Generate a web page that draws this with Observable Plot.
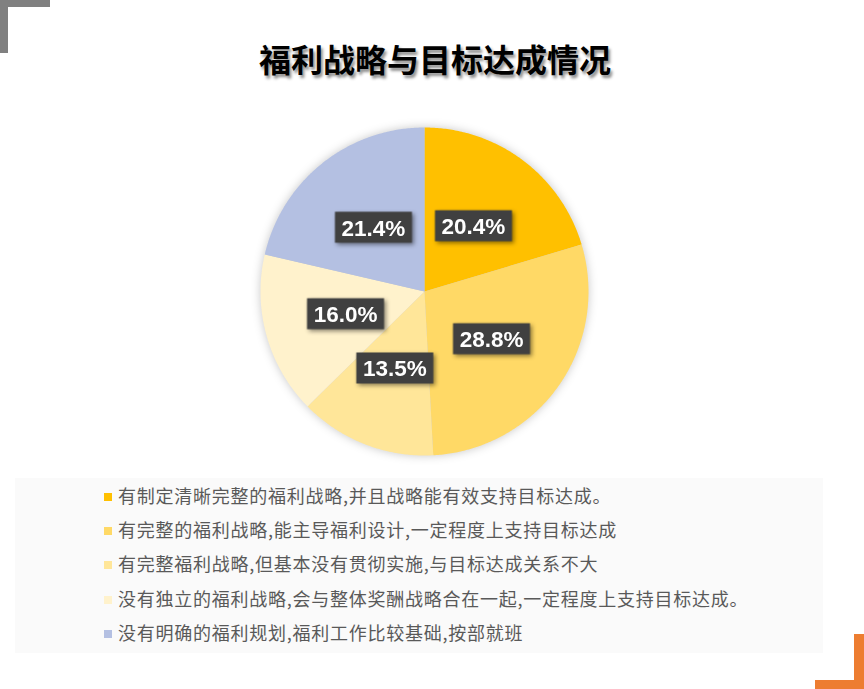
<!DOCTYPE html>
<html>
<head>
<meta charset="utf-8">
<script src="https://cdn.jsdelivr.net/npm/d3@7"></script>
<script src="https://cdn.jsdelivr.net/npm/@observablehq/plot@0.6"></script>
<style>
  html, body { margin: 0; padding: 0; background: #fff; }
  #page { position: relative; width: 864px; height: 689px; overflow: hidden; background: #fff;
          font-family: "Noto Sans CJK SC", "Noto Sans", sans-serif; }
  #title { position: absolute; left: 0; width: 870px; top: 36px; text-align: center;
           font-size: 32px; font-weight: 700; color: #000; line-height: 44px;
           text-shadow: 2px 3px 3px rgba(0,0,0,0.45); }
  #chart { position: absolute; left: 0; top: 110px; }
  #chart g[aria-label="line"] { filter: drop-shadow(0px 0px 5px rgba(0,0,0,0.22)); }
  #chart g[aria-label="dot"] { filter: drop-shadow(2px 2px 2px rgba(0,0,0,0.45)); }
  #legend { position: absolute; left: 15px; top: 478px; width: 808px; height: 175px;
            background: #fafafa; }
  .row { position: absolute; left: 0; height: 34px; line-height: 34px; font-size: 18px; color: #595959;
         white-space: nowrap; letter-spacing: 0.75px; }
  .sw { position: absolute; left: 89px; top: 15px; width: 8px; height: 8px; }
  .txt { position: absolute; left: 103px; top: 0; }
  .corner { position: absolute; }
</style>
</head>
<body>
<div id="page">
  <div class="corner" style="left:0;top:0;width:50px;height:7px;background:#808080"></div>
  <div class="corner" style="left:0;top:0;width:8px;height:53px;background:#808080"></div>
  <div class="corner" style="left:854px;top:634px;width:10px;height:55px;background:#ED7D31"></div>
  <div class="corner" style="left:815px;top:680px;width:49px;height:9px;background:#ED7D31"></div>
  <div id="title"></div>
  <div id="chart"></div>
  <div id="legend"></div>
</div>
<script>
const titleText = "福利战略与目标达成情况";
const categories = [
  "有制定清晰完整的福利战略,并且战略能有效支持目标达成。",
  "有完整的福利战略,能主导福利设计,一定程度上支持目标达成",
  "有完整福利战略,但基本没有贯彻实施,与目标达成关系不大",
  "没有独立的福利战略,会与整体奖酬战略合在一起,一定程度上支持目标达成。",
  "没有明确的福利规划,福利工作比较基础,按部就班"
];
const values = [20.4, 28.8, 13.5, 16.0, 21.4];
const colors = ["#FFC000", "#FFD966", "#FFE699", "#FFF2CC", "#B4C0E2"];

document.getElementById("title").textContent = titleText;

// Pie geometry from data
const arcs = d3.pie().sort(null).value(d => d)(values);
const slicePts = [];
arcs.forEach((a, i) => {
  const n = Math.max(2, Math.ceil((a.endAngle - a.startAngle) / 0.01));
  slicePts.push({cat: categories[i], x: 0, y: 0});
  for (let k = 0; k <= n; k++) {
    const t = a.startAngle + (a.endAngle - a.startAngle) * k / n;
    slicePts.push({cat: categories[i], x: Math.sin(t), y: Math.cos(t)});
  }
  slicePts.push({cat: categories[i], x: 0, y: 0});
});
const labels = arcs.map((a, i) => {
  const m = (a.startAngle + a.endAngle) / 2;
  return {cat: categories[i], x: 0.5 * Math.sin(m), y: 0.5 * Math.cos(m), text: values[i].toFixed(1) + "%"};
});

const boxSymbol = { draw(ctx) { ctx.rect(-38.5, -15.5, 77, 31); } };

const W = 864, H = 360, cx = 424, cy = 181, R = 164;
const chart = Plot.plot({
  width: W, height: H,
  marginLeft: cx - R, marginRight: W - (cx + R),
  marginTop: cy - R, marginBottom: H - (cy + R),
  x: {domain: [-1, 1], axis: null},
  y: {domain: [-1, 1], axis: null},
  color: {domain: categories, range: colors},
  style: {background: "transparent"},
  marks: [
    Plot.line(slicePts, {x: "x", y: "y", z: "cat", fill: "cat", stroke: "none", curve: "linear"}),
    Plot.dot(labels, {x: "x", y: "y", symbol: boxSymbol, r: 10, fill: "#404040", stroke: "none"}),
    Plot.text(labels, {x: "x", y: "y", text: "text", fill: "#fff", fontSize: 22.5, fontWeight: "bold",
                       fontFamily: "Liberation Sans, Arial, sans-serif", dy: 1})
  ]
});
document.getElementById("chart").appendChild(chart);

// Legend
const lg = document.getElementById("legend");
categories.forEach((c, i) => {
  const row = document.createElement("div");
  row.className = "row";
  row.style.top = (i * 34.2) + "px";
  const sw = document.createElement("div");
  sw.className = "sw";
  sw.style.background = colors[i];
  const tx = document.createElement("div");
  tx.className = "txt";
  tx.textContent = c;
  row.appendChild(sw); row.appendChild(tx);
  lg.appendChild(row);
});
</script>
</body>
</html>
